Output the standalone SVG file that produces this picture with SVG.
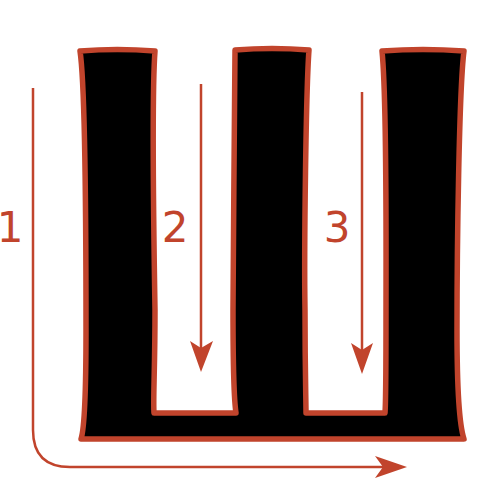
<svg xmlns="http://www.w3.org/2000/svg" width="500" height="500" viewBox="0 0 500 500">
<style>
.arr{fill:none;stroke:#c1442c;stroke-width:2.5}
.head{fill:#c1442c}
.lbl{font-family:"DejaVu Sans",sans-serif;font-size:42px;fill:#c1442c;text-anchor:middle}
</style>
<rect width="500" height="500" fill="#fff"/>
<g id="letter">
<path d="M 80,51 Q 117,48 155,51 C 152,90 154,250 155,310 C 155,370 153,400 154,413 L 236,413 C 234,400 233,370 233,310 C 233,250 235,90 235,50 Q 272,47 309,50 C 306,90 304,250 305,310 C 305,370 306,400 306,413 L 385,413 C 386,400 386,370 386,310 C 386,250 387,100 382,51 Q 423,48 464,51 C 459,90 457,250 457,330 C 457,400 461,430 464,439 L 81,439 C 84,430 86,400 86,330 C 86,250 86,90 80,51 Z" fill="#000" stroke="#c1442c" stroke-width="5.5" stroke-linejoin="round"/>
</g>
<g id="connectors">
<path class="arr" d="M 33,88 L 33,430 Q 33,467 70,467 L 385,467"/>
<path class="head" d="M 407,467 L 375,456 L 383,467 L 375,478 Z"/>
<path class="arr" d="M 201,84 L 201,350"/>
<path class="head" d="M 201,372 L 190,341 L 201,348 L 213,341 Z"/>
<path class="arr" d="M 362,92 L 362,352"/>
<path class="head" d="M 362,374 L 351,343 L 362,350 L 373,343 Z"/>
</g>
<g id="labels">
<text class="lbl" x="10" y="242">1</text>
<text class="lbl" x="175" y="242">2</text>
<text class="lbl" x="337" y="242">3</text>
</g>
</svg>
